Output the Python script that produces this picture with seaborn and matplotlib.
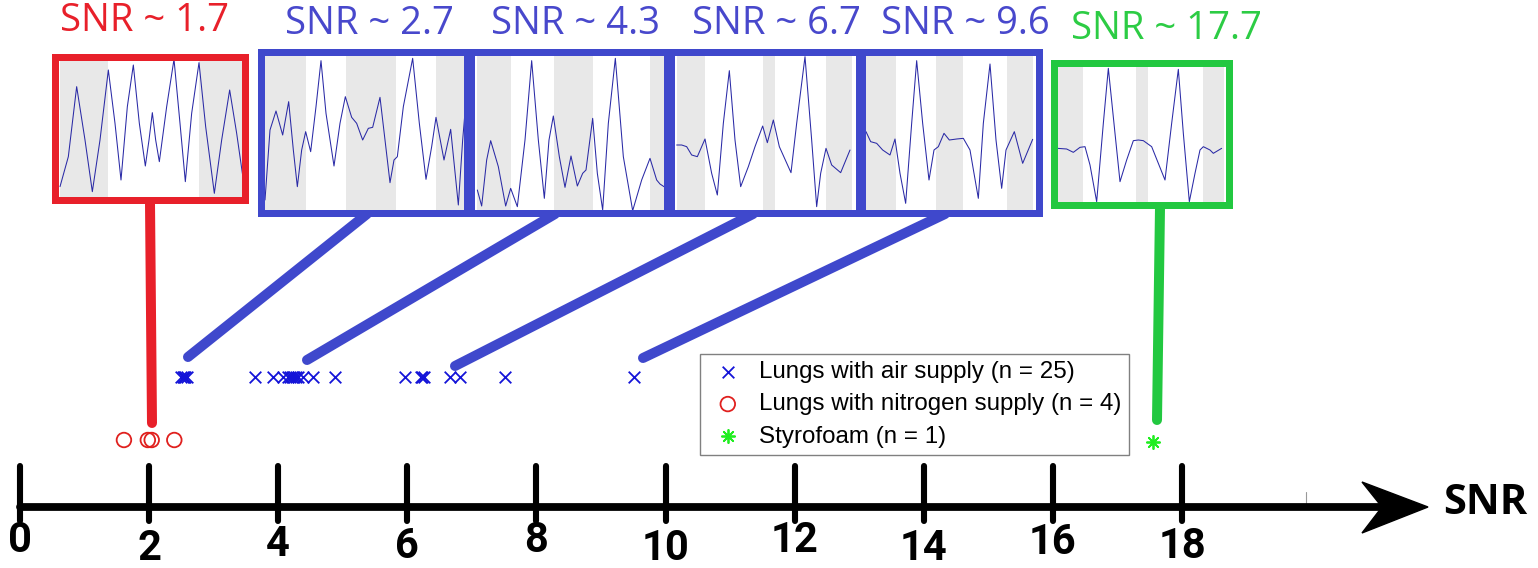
import matplotlib
matplotlib.use("Agg")
import matplotlib.pyplot as plt
import seaborn as sns
import pandas as pd
from matplotlib.patches import Polygon

# ---------------- data ----------------
air_snr = [2.49, 2.52, 2.54, 2.56, 2.59,
           3.64, 3.92, 4.07, 4.15, 4.18, 4.21, 4.24, 4.28, 4.31, 4.38, 4.54, 4.88,
           5.96, 6.21, 6.23, 6.26, 6.66, 6.82, 7.51, 9.51]
nitrogen_snr = [1.61, 1.98, 2.04, 2.39]
foam_snr = [17.55]
tick_values = [0, 2, 4, 6, 8, 10, 12, 14, 16, 18]
tick_labels = ["0", "2", "4", "6", "8", "10", "12", "14", "16", "18"]
legend_labels = ["Lungs with air supply (n = 25)",
                 "Lungs with nitrogen supply (n = 4)",
                 "Styrofoam (n = 1)"]
inset_titles = ["SNR ~ 1.7", "SNR ~ 2.7", "SNR ~ 4.3", "SNR ~ 6.7", "SNR ~ 9.6", "SNR ~ 17.7"]
axis_label = "SNR"

# example echo signals (time, amplitude in screen-read units; y grows downward)
wave1_t = [60, 85, 110, 135, 157, 180, 205, 225, 243, 262, 280, 298, 316, 327, 337, 347, 358,
           380, 402, 420, 436, 455, 477, 497, 523, 545, 569, 590, 610]
wave1_a = [440, 350, 140, 300, 455, 300, 90, 250, 420, 200, 75, 250, 378, 300, 218, 300, 365,
           200, 58, 250, 425, 220, 68, 260, 460, 300, 150, 280, 420]
wave2_t = [675, 690, 708, 728, 746, 760, 772, 785, 797, 812, 828, 843, 858, 882, 900, 916, 935,
           950, 968, 985, 998, 1020, 1035, 1050, 1062, 1072, 1090, 1118, 1138, 1158, 1175, 1188,
           1212, 1232, 1255, 1268, 1276]
wave2_a = [480, 270, 213, 285, 185, 330, 440, 330, 275, 335, 200, 62, 220, 378, 250, 170, 232,
           250, 300, 265, 262, 172, 300, 428, 360, 350, 200, 55, 250, 418, 320, 232,
           360, 268, 495, 300, 205]
wave3_t = [52, 65, 80, 92, 115, 137, 152, 172, 195, 215, 235, 253, 267, 280, 298, 315, 333, 352,
           368, 378, 398, 412, 428, 445, 466, 490, 518, 545, 570, 590, 600, 612]
wave3_a = [450, 498, 360, 302, 380, 498, 445, 500, 300, 62, 300, 475, 300, 228, 350, 442, 348, 438,
           400, 390, 235, 400, 510, 250, 55, 350, 512, 420, 355, 420, 432, 440]
wave4_t = [650, 665, 680, 695, 712, 735, 755, 772, 790, 808, 825, 842, 865, 885, 908, 922, 940,
           958, 993, 1010, 1035, 1055, 1070, 1082, 1098, 1115, 1142, 1170]
wave4_a = [315, 315, 320, 345, 350, 297, 400, 465, 250, 92, 300, 440, 380, 320, 258, 308, 240,
           320, 398, 250, 50, 300, 500, 400, 325, 375, 398, 330]
wave5_t = [48, 62, 80, 98, 120, 135, 150, 167, 185, 200, 218, 237, 252, 265, 282, 298, 320, 340,
           360, 372, 385, 400, 420, 438, 455, 468, 493, 518, 548]
wave5_a = [275, 305, 310, 330, 345, 297, 400, 490, 250, 62, 250, 420, 330, 320, 280, 300, 297, 295,
           330, 400, 475, 250, 72, 300, 445, 330, 275, 370, 298]
wave6_t = [622, 650, 670, 690, 705, 720, 740, 760, 775, 795, 810, 830, 850, 865, 880, 905, 925,
           945, 965, 985, 1000, 1018, 1035, 1050, 1060, 1080, 1090, 1115]
wave6_a = [325, 327, 337, 322, 320, 375, 485, 250, 85, 280, 425, 360, 302, 300, 302, 320, 370,
           420, 250, 88, 280, 485, 400, 330, 320, 330, 340, 325]

bands1 = [(60, 205), (478, 610)]
bands2 = [(672, 797), (918, 1068), (1188, 1280)]
bands3 = [(52, 152), (282, 398), (570, 612)]
bands4 = [(650, 735), (908, 945), (1098, 1175)]
bands5 = [(45, 138), (258, 340), (472, 550)]
bands6 = [(620, 698), (858, 893), (1060, 1122)]

# ---------------- style ----------------
sns.set_theme(style="white")
plt.rcParams["font.family"] = ["Open Sans", "DejaVu Sans"]
plt.rcParams["text.color"] = "black"

RED = "#e8202a"
BLUE = "#3f48cc"
GREEN = "#22c840"
TXT_BLUE = "#4848cc"
TXT_GREEN = "#2ccc44"

W, H = 1538, 568
fig = plt.figure(figsize=(W / 100, H / 100), dpi=100)
ax = fig.add_axes([0, 0, 1, 1])


def px2x(p):
    return (p - 20) / 64.56


ax.set_xlim(px2x(0), px2x(W))
ax.set_ylim(H, 0)
ax.axis("off")

# ---------------- axis line, ticks, arrow ----------------
AXIS_Y = 507
ax.plot([0, px2x(1385)], [AXIS_Y, AXIS_Y], color="black", lw=5.6, solid_capstyle="round", zorder=2)
head = Polygon([(px2x(1362), 482), (px2x(1428), AXIS_Y), (px2x(1362), 533), (px2x(1382), AXIS_Y)],
               closed=True, color="black", zorder=3)
ax.add_patch(head)
for v in tick_values:
    ax.plot([v, v], [466, 521], color="black", lw=4.4, solid_capstyle="round", zorder=3)
ax.plot([px2x(1306), px2x(1306)], [492, 505], color="#999999", lw=0.8, zorder=1)
label_y = [541, 548, 545, 546, 541, 548, 541, 549, 542, 547]
for v, lab, ly in zip(tick_values, tick_labels, label_y):
    ax.text(v, ly, lab, ha="center", va="center", fontsize=30, fontweight="bold",
            family=["Roboto", "DejaVu Sans"], color="black")
ax.text(px2x(1443), 503, axis_label, ha="left", va="center", fontsize=30, fontweight="bold",
        color="black")

# ---------------- connectors ----------------
connectors = [((150, 203), (152, 423), RED),
              ((367, 214), (188, 357), BLUE),
              ((555, 214), (307, 360), BLUE),
              ((753, 214), (455, 366), BLUE),
              ((945, 214), (643, 358), BLUE),
              ((1160, 208), (1157, 420), GREEN)]
for (x0, y0), (x1, y1), c in connectors:
    ax.plot([px2x(x0), px2x(x1)], [y0, y1], color=c, lw=7.2, solid_capstyle="round", zorder=1)

# ---------------- scatter markers ----------------
df_air = pd.DataFrame({"snr": air_snr, "row": [377] * len(air_snr)})
df_n2 = pd.DataFrame({"snr": nitrogen_snr, "row": [440] * len(nitrogen_snr)})
df_foam = pd.DataFrame({"snr": foam_snr, "row": [442] * len(foam_snr)})
sns.scatterplot(data=df_air, x="snr", y="row", marker="x", color="#1414d8", s=70,
                linewidth=1.3, label=legend_labels[0], ax=ax, zorder=4)
sns.scatterplot(data=df_n2, x="snr", y="row", marker="o", facecolor="none", edgecolor="#e0201e",
                s=110, linewidth=1.3, label=legend_labels[1], ax=ax, zorder=4)
sns.scatterplot(data=df_foam, x="snr", y="row", marker=(8, 2, 0), color="#22ee22", s=90,
                linewidth=1.3, label=legend_labels[2], ax=ax, zorder=4)

handles, labels = ax.get_legend_handles_labels()
leg = ax.legend(handles, labels, loc="upper left", bbox_to_anchor=(700 / W, 1 - 354 / H),
                bbox_transform=fig.transFigure, frameon=True, fancybox=False,
                edgecolor="#808080", framealpha=1,
                prop={"family": "Liberation Sans", "size": 17.4},
                borderpad=0.3, handlelength=1.7, handletextpad=0.45, labelspacing=0.42,
                borderaxespad=0)
leg.get_frame().set_linewidth(1.0)
for t in leg.get_texts():
    t.set_color("black")

ax.set_xlabel("")
ax.set_ylabel("")

# ---------------- insets ----------------
insets = [
    ((52, 53, 248, 203), (40, 40), wave1_t, wave1_a, bands1, RED),
    ((257, 48, 470, 216), (40, 40), wave2_t, wave2_a, bands2, BLUE),
    ((467, 48, 670, 216), (460, 40), wave3_t, wave3_a, bands3, BLUE),
    ((667, 48, 862, 216), (460, 40), wave4_t, wave4_a, bands4, BLUE),
    ((858, 48, 1042, 216), (850, 40), wave5_t, wave5_a, bands5, BLUE),
    ((1050, 60, 1232, 208), (850, 40), wave6_t, wave6_a, bands6, GREEN),
]
BW = 7
for (l, t, r, b), (cx, cy), wt, wa, bands, col in insets:
    L, T, R, B = l + BW / 2, t + BW / 2, r - BW / 2, b - BW / 2
    iax = fig.add_axes([L / W, 1 - B / H, (R - L) / W, (B - T) / H])
    iax.set_facecolor("white")
    for a0, a1 in bands:
        iax.axvspan(a0, a1, color="#e8e8e8", lw=0, zorder=0)
    sns.lineplot(x=wt, y=wa, sort=False, estimator=None, color="#2a2aa6", lw=0.75,
                 ax=iax, zorder=2, solid_joinstyle="round")
    iax.set_xlim((L - cx) * 3, (R - cx) * 3)
    iax.set_ylim((B - cy) * 3, (T - cy) * 3)
    iax.set_xticks([])
    iax.set_yticks([])
    iax.set_xlabel("")
    iax.set_ylabel("")
    for sp in iax.spines.values():
        sp.set_visible(True)
        sp.set_color(col)
        sp.set_linewidth(BW * 0.72)

# ---------------- inset titles ----------------
title_pos = [(145, 21, RED), (369, 24, TXT_BLUE), (576, 24, TXT_BLUE),
             (776, 24, TXT_BLUE), (965, 24, TXT_BLUE), (1166, 29, TXT_GREEN)]
for txt, (xc, yc, c) in zip(inset_titles, title_pos):
    ax.text(px2x(xc), yc, txt, ha="center", va="center", fontsize=27.5, color=c)

fig.savefig("out.png", dpi=100)
